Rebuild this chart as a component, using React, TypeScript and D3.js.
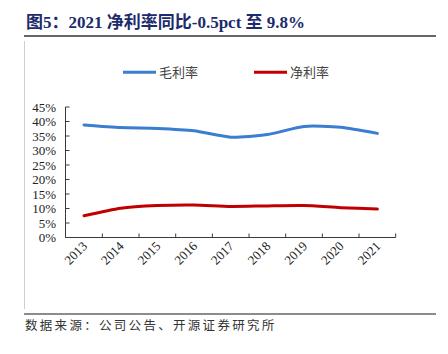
import React from "react";
import * as d3 from "d3";

const years = ["2013", "2014", "2015", "2016", "2017", "2018", "2019", "2020", "2021"];
const grossMargin = [38.8, 37.9, 37.6, 36.8, 34.6, 35.5, 38.3, 38.0, 35.9];
const netMargin = [7.5, 10.1, 11.0, 11.2, 10.7, 10.9, 11.0, 10.3, 9.8];
const yTicks = [0, 5, 10, 15, 20, 25, 30, 35, 40, 45];
const seriesNames = ["毛利率", "净利率"];
const seriesColors = ["#3b7dd0", "#c00000"];

const W = 448;
const H = 354;
const serif = "'Liberation Serif', 'Times New Roman', serif";
const cjk = "'Liberation Serif', 'Noto Sans CJK SC', serif";

export default function App() {
  const x = d3.scaleBand<string>().domain(years).range([65.7, 395.7]);
  const y = d3.scaleLinear().domain([0, 45]).range([237.5, 107]);
  const cx = (d: string) => (x(d) as number) + x.bandwidth() / 2;
  const line = d3
    .line<number>()
    .x((_, i) => cx(years[i]))
    .y((v) => y(v))
    .curve(d3.curveCardinal.tension(0.35));
  const series = [grossMargin, netMargin];
  const legendX = [123, 254];
  const axisColor = "#3a3a3a";

  return (
    <svg width={W} height={H} style={{ position: "absolute", left: 0, top: 0, background: "#fff" }}>
      <text x={26} y={28} fontFamily={cjk} fontWeight="bold" fontSize={17} fill="#1c2b6b">
        图5：2021 净利率同比-0.5pct 至 9.8%
      </text>
      <line x1={24} x2={436} y1={36} y2={36} stroke="#333" strokeWidth={1.5} />
      <line x1={24.5} x2={24.5} y1={41} y2={309} stroke="#cfcfcf" strokeWidth={1} />
      <line x1={24} x2={436} y1={314} y2={314} stroke="#666" strokeWidth={1.5} />
      <text x={25} y={330} fontFamily="'Noto Sans CJK SC', sans-serif" fontSize={12.5} letterSpacing={2.3} fill="#333">
        数据来源：公司公告、开源证券研究所
      </text>

      {seriesNames.map((n, i) => (
        <g key={n}>
          <line x1={legendX[i]} x2={legendX[i] + 33} y1={72.3} y2={72.3} stroke={seriesColors[i]} strokeWidth={3} />
          <text x={legendX[i] + 36} y={77} fontFamily="'Noto Sans CJK SC', sans-serif" fontSize={13} fill="#444">
            {n}
          </text>
        </g>
      ))}

      <line x1={65.5} x2={65.5} y1={y(45)} y2={y(0)} stroke={axisColor} strokeWidth={1} />
      {yTicks.map((t) => (
        <g key={t}>
          <line x1={65.5} x2={69.5} y1={y(t)} y2={y(t)} stroke={axisColor} strokeWidth={1} />
          <text x={56} y={y(t) + 4.5} textAnchor="end" fontFamily={serif} fontSize={13} fill="#222">
            {t}%
          </text>
        </g>
      ))}
      <line x1={65.5} x2={395.7} y1={237.5} y2={237.5} stroke={axisColor} strokeWidth={1} />
      {years.map((yr) => (
        <line key={"t" + yr} x1={(x(yr) as number) + x.bandwidth()} x2={(x(yr) as number) + x.bandwidth()} y1={233.5} y2={237.5} stroke={axisColor} strokeWidth={1} />
      ))}
      {years.map((yr) => (
        <text
          key={yr}
          transform={`translate(${cx(yr) + 4},${247}) rotate(-45)`}
          textAnchor="end"
          fontFamily={serif}
          fontSize={13}
          fill="#222"
        >
          {yr}
        </text>
      ))}

      {series.map((s, i) => (
        <path key={i} d={line(s) as string} fill="none" stroke={seriesColors[i]} strokeWidth={3} strokeLinecap="round" />
      ))}
    </svg>
  );
}
